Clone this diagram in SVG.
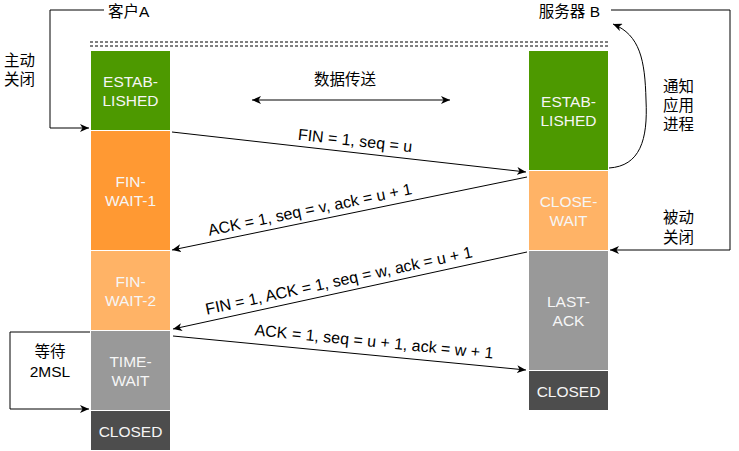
<svg xmlns="http://www.w3.org/2000/svg" width="739" height="451" viewBox="0 0 739 451">
<defs>
<marker id="arr" markerWidth="10" markerHeight="8" refX="9" refY="4" orient="auto" markerUnits="userSpaceOnUse">
<path d="M0,0 L9,4 L0,8 L2.5,4 Z" fill="#000"/>
</marker>
<marker id="arrg" markerWidth="10" markerHeight="8" refX="9" refY="4" orient="auto-start-reverse" markerUnits="userSpaceOnUse">
<path d="M0,0 L9,4 L0,8 L2.5,4 Z" fill="#000"/>
</marker>
</defs>
<style>
.st{stroke:#fff;stroke-width:1}
.sl{font-family:"Liberation Sans",Arial,sans-serif;font-size:15.5px;fill:#f6f6f6;text-anchor:middle}
.lb{font-family:"Liberation Sans","Noto Sans CJK SC",sans-serif;font-size:15.5px;fill:#000}
.ln{fill:none;stroke:#000;stroke-width:1}
</style>
<rect width="739" height="451" fill="#fff"/>
<g id="dash">
<line x1="90" y1="42" x2="610" y2="42" stroke="#000" stroke-dasharray="3 2"/>
<line x1="90" y1="46" x2="610" y2="46" stroke="#000" stroke-dasharray="3 2"/>
</g>
<g id="a-established"><rect class="st" x="90.5" y="50.5" width="80" height="80" fill="#4D9900"/><text class="sl" x="130.5" y="87">ESTAB-</text><text class="sl" x="130.5" y="106">LISHED</text></g>
<g id="a-finwait1"><rect class="st" x="90.5" y="130.5" width="80" height="120" fill="#FF9933"/><text class="sl" x="130.5" y="187">FIN-</text><text class="sl" x="130.5" y="206">WAIT-1</text></g>
<g id="a-finwait2"><rect class="st" x="90.5" y="250.5" width="80" height="80" fill="#FFB366"/><text class="sl" x="130.5" y="287">FIN-</text><text class="sl" x="130.5" y="306">WAIT-2</text></g>
<g id="a-timewait"><rect class="st" x="90.5" y="330.5" width="80" height="80" fill="#999999"/><text class="sl" x="130.5" y="367">TIME-</text><text class="sl" x="130.5" y="386">WAIT</text></g>
<g id="a-closed"><rect class="st" x="90.5" y="410.5" width="80" height="40" fill="#4D4D4D"/><text class="sl" x="130.5" y="436.5">CLOSED</text></g>
<g id="b-established"><rect class="st" x="528.5" y="50.5" width="80" height="120" fill="#4D9900"/><text class="sl" x="568.5" y="107">ESTAB-</text><text class="sl" x="568.5" y="126">LISHED</text></g>
<g id="b-closewait"><rect class="st" x="528.5" y="170.5" width="80" height="80" fill="#FFB366"/><text class="sl" x="568.5" y="207">CLOSE-</text><text class="sl" x="568.5" y="226">WAIT</text></g>
<g id="b-lastack"><rect class="st" x="528.5" y="250.5" width="80" height="120" fill="#999999"/><text class="sl" x="568.5" y="307">LAST-</text><text class="sl" x="568.5" y="326">ACK</text></g>
<g id="b-closed"><rect class="st" x="528.5" y="370.5" width="80" height="40" fill="#4D4D4D"/><text class="sl" x="568.5" y="396.5">CLOSED</text></g>
<g id="labels">
<text class="lb" x="108" y="17">客户A</text>
<text class="lb" x="600" y="17" text-anchor="end">服务器 B</text>
<text class="lb" x="4" y="66">主动</text>
<text class="lb" x="4" y="85">关闭</text>
<text class="lb" x="663" y="92">通知</text>
<text class="lb" x="663" y="111">应用</text>
<text class="lb" x="663" y="130">进程</text>
<text class="lb" x="663" y="223">被动</text>
<text class="lb" x="663" y="243">关闭</text>
<text class="lb" x="50" y="357" text-anchor="middle">等待</text>
<text class="lb" x="50" y="377" text-anchor="middle">2MSL</text>
<text class="lb" x="345" y="85" text-anchor="middle">数据传送</text>
</g>
<g id="connectors">
<polyline class="ln" points="104,10 50,10 50,128 89,128" marker-end="url(#arr)"/>
<polyline class="ln" points="611,10 730,10 730,250 610,250" marker-end="url(#arr)"/>
<polyline class="ln" points="90,332 10,332 10,409 89,409" marker-end="url(#arr)"/>
<path class="ln" d="M609,168 C640,166 648,140 646,100 C645,60 640,35 613,24" marker-end="url(#arr)"/>
<line x1="252" y1="100" x2="450" y2="100" stroke="#808080" stroke-width="2" marker-start="url(#arrg)" marker-end="url(#arrg)"/>
<line class="ln" x1="172" y1="132" x2="526" y2="172" marker-end="url(#arr)"/>
<line class="ln" x1="527" y1="177" x2="172" y2="250" marker-end="url(#arr)"/>
<line class="ln" x1="527" y1="252" x2="173" y2="329" marker-end="url(#arr)"/>
<line class="ln" x1="173" y1="336" x2="526" y2="370" marker-end="url(#arr)"/>
</g>
<g id="msg-labels" font-family="'Liberation Sans',Arial,sans-serif" font-size="16" fill="#000" text-anchor="middle">
<text transform="translate(355,141) rotate(6.3)" dy="5">FIN = 1, seq = u</text>
<text transform="translate(310,210) rotate(-11.6)" dy="5">ACK = 1, seq = v, ack = u + 1</text>
<text transform="translate(339,281) rotate(-12.2)" dy="5">FIN = 1, ACK = 1, seq = w, ack = u + 1</text>
<text transform="translate(374,342) rotate(5.6)" dy="5">ACK = 1, seq = u + 1, ack = w + 1</text>
</g>
</svg>
